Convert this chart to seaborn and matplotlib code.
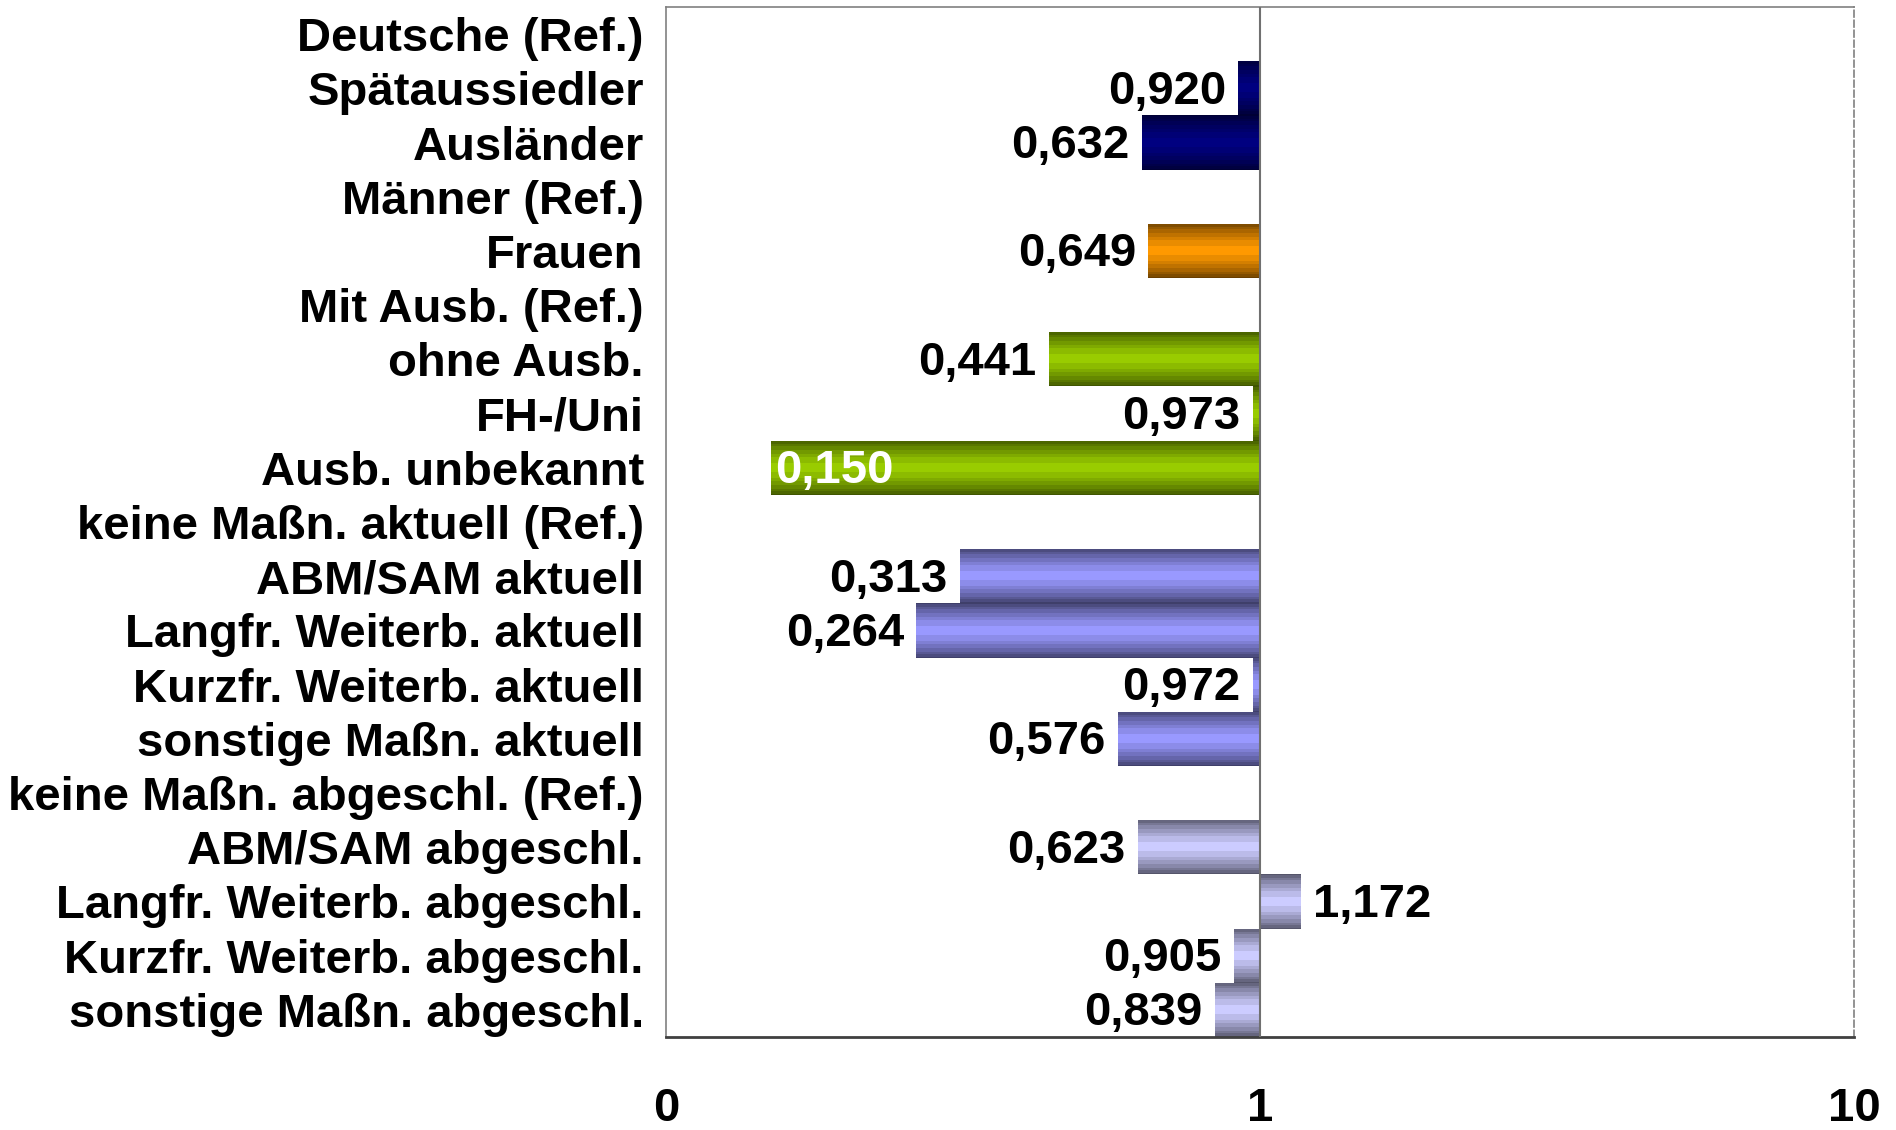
import numpy as np
import pandas as pd
import matplotlib
matplotlib.use("Agg")
import matplotlib.pyplot as plt
import matplotlib.colors as mcolors
from matplotlib.ticker import FixedLocator, FuncFormatter
import seaborn as sns

# Odds ratios per category (reference categories = 1)
categories = [
    "Deutsche (Ref.)", "Spätaussiedler", "Ausländer",
    "Männer (Ref.)", "Frauen",
    "Mit Ausb. (Ref.)", "ohne Ausb.", "FH-/Uni", "Ausb. unbekannt",
    "keine Maßn. aktuell (Ref.)", "ABM/SAM aktuell", "Langfr. Weiterb. aktuell",
    "Kurzfr. Weiterb. aktuell", "sonstige Maßn. aktuell",
    "keine Maßn. abgeschl. (Ref.)", "ABM/SAM abgeschl.", "Langfr. Weiterb. abgeschl.",
    "Kurzfr. Weiterb. abgeschl.", "sonstige Maßn. abgeschl.",
]
odds_ratios = [
    1.0, 0.920, 0.632,
    1.0, 0.649,
    1.0, 0.441, 0.973, 0.150,
    1.0, 0.313, 0.264, 0.972, 0.576,
    1.0, 0.623, 1.172, 0.905, 0.839,
]
is_reference = [
    True, False, False,
    True, False,
    True, False, False, False,
    True, False, False, False, False,
    True, False, False, False, False,
]
groups = (["Nationalität"] * 3 + ["Geschlecht"] * 2 + ["Ausbildung"] * 4
          + ["Maßnahme aktuell"] * 5 + ["Maßnahme abgeschlossen"] * 5)
group_colors = {
    "Nationalität": "#000080",
    "Geschlecht": "#FF9900",
    "Ausbildung": "#99CC00",
    "Maßnahme aktuell": "#9999FF",
    "Maßnahme abgeschlossen": "#CCCCFF",
}
x_ticks = [0.1, 1, 10]

sns.set_theme(style="white")
plt.rcParams["font.family"] = ["Liberation Sans", "DejaVu Sans"]
plt.rcParams["font.weight"] = "bold"
plt.rcParams["text.color"] = "black"
plt.rcParams["xtick.labelcolor"] = "black"
plt.rcParams["ytick.labelcolor"] = "black"

df = pd.DataFrame({"Kategorie": categories, "OR": odds_ratios, "Gruppe": groups})
df["log_OR"] = np.log10(df["OR"])

W, H = 1896, 1130
fig = plt.figure(figsize=(W / 100, H / 100), dpi=100)
ax = fig.add_axes([666 / W, 1 - 1037 / H, (1854 - 666) / W, (1037 - 7) / H])

sns.barplot(data=df, y="Kategorie", x="log_OR", hue="Gruppe",
            palette=group_colors, hue_order=list(group_colors),
            order=categories, dodge=False, width=1.0, saturation=1,
            errorbar=None, legend=False, ax=ax)


def shaded(color, n=60, bands=12):
    """Vertical cylinder-like shading: dark edges, full colour in the middle."""
    rgb = np.array(mcolors.to_rgb(color))
    t = np.linspace(-1, 1, n)
    f = 1 - 0.55 * np.abs(t) ** 1.5
    f = np.round(f * bands) / bands
    return np.clip(f[:, None, None] * rgb[None, None, :], 0, 1)


for p in list(ax.patches):
    w = p.get_width()
    if not np.isfinite(w) or w == 0:
        continue
    x0, y0, h = p.get_x(), p.get_y(), p.get_height()
    img = shaded(p.get_facecolor())
    im = ax.imshow(img, extent=(x0, x0 + w, y0 + h, y0), aspect="auto",
                   interpolation="nearest", zorder=2)
    im.set_clip_path(p)

# value labels
for i, (v, ref) in enumerate(zip(odds_ratios, is_reference)):
    if ref:
        continue
    txt = f"{v:.3f}".replace(".", ",")
    x = np.log10(v)
    if v < 0.2:
        offset, ha, color = 3, "left", "white"
    elif v < 1:
        offset, ha, color = -9, "right", "black"
    else:
        offset, ha, color = 9, "left", "black"
    ax.annotate(txt, (x, i), xytext=(offset, -2.5), textcoords="offset points",
                ha=ha, va="center", color=color, fontsize=34,
                fontweight="bold", zorder=5)

ax.set_xlim(np.log10(x_ticks[0]), np.log10(x_ticks[-1]))
ax.set_ylim(len(categories) - 0.5, -0.5)
ax.xaxis.set_major_locator(FixedLocator(np.log10(x_ticks)))
ax.xaxis.set_major_formatter(FuncFormatter(lambda x, pos: f"{10 ** x:.0f}"))

ax.axvline(0, color="#707070", lw=1.5, zorder=4)

ax.set_xlabel("")
ax.set_ylabel("")
ax.tick_params(axis="x", direction="out", length=15, width=1.5,
               color="#707070", pad=21, labelsize=34, labelcolor="black")
ax.tick_params(axis="y", length=0, pad=16, labelsize=34, labelcolor="black")
for lab in ax.get_xticklabels() + ax.get_yticklabels():
    lab.set_fontweight("bold")

for side in ["top", "left"]:
    ax.spines[side].set_color("#808080")
    ax.spines[side].set_linewidth(1.2)
ax.spines["right"].set_color("#808080")
ax.spines["right"].set_linewidth(1.2)
ax.spines["right"].set_linestyle((0, (4, 2)))
ax.spines["bottom"].set_color("#404040")
ax.spines["bottom"].set_linewidth(2)

fig.savefig("out.png", dpi=100, facecolor="white")
